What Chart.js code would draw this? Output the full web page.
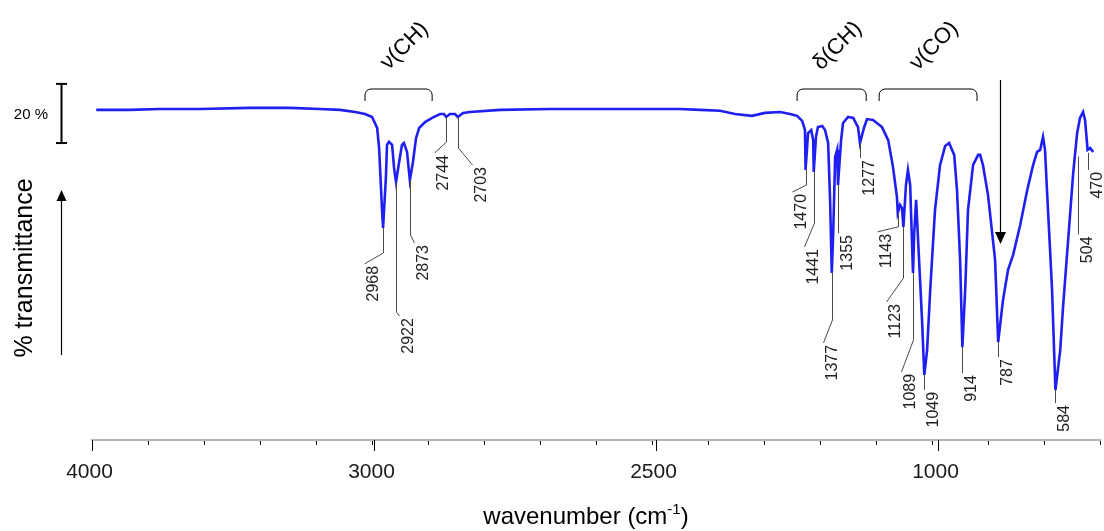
<!DOCTYPE html>
<html>
<head>
<meta charset="utf-8">
<script src="https://cdn.jsdelivr.net/npm/chart.js@4"></script>
<style>
  html, body { margin: 0; padding: 0; background: #fff; }
  #spectrum { display: block; }
</style>
</head>
<body>
<canvas id="spectrum" width="1104" height="531"></canvas>
<script>
// IR spectrum (wavenumber in cm-1, transmittance in %)
const wavenumbers = [
  3985, 3865, 3759, 3617, 3440, 3298, 3192, 3121, 3067, 3032, 3007, 2989, 2982, 2972, 2968, 2958,
  2954, 2947, 2936, 2929, 2922, 2911, 2901, 2894, 2883, 2873, 2862, 2851, 2840, 2819, 2794, 2766,
  2752, 2744, 2731, 2713, 2703, 2684, 2660, 2553, 2376, 2199, 2021, 1915, 1844, 1773, 1720, 1660,
  1614, 1560, 1525, 1500, 1482, 1472, 1470, 1461, 1450, 1443, 1441, 1433, 1426, 1411, 1401, 1390,
  1383, 1377, 1372, 1365, 1358, 1355, 1344, 1337, 1319, 1301, 1284, 1277, 1263, 1252, 1231, 1199,
  1177, 1160, 1146, 1143, 1135, 1128, 1123, 1114, 1107, 1099, 1096, 1089, 1085, 1078, 1071, 1057,
  1049, 1039, 1028, 1011, 993, 975, 961, 943, 933, 922, 914, 904, 894, 876, 858, 851,
  841, 823, 798, 787, 770, 752, 734, 709, 684, 663, 649, 638, 628, 621, 614, 603,
  596, 584, 567, 557, 539, 521, 507, 497, 486, 479, 470, 461, 450
];
const transmittance = [
  95.6, 95.6, 95.9, 95.9, 96.3, 96.3, 95.9, 95.6, 94.9, 94.2, 93.2, 89.5, 82.7, 62.4, 55.7, 72.6,
  83.8, 84.8, 83.8, 76.0, 71.2, 78.0, 83.8, 84.4, 81.4, 71.9, 78.0, 86.1, 89.5, 91.5, 92.9, 94.2,
  94.2, 93.2, 94.2, 94.2, 93.2, 94.6, 94.9, 95.6, 95.9, 95.9, 95.9, 95.9, 95.6, 95.3, 94.2, 93.6,
  94.6, 94.9, 94.2, 93.6, 91.9, 88.8, 75.3, 87.8, 88.8, 85.4, 74.6, 86.5, 89.8, 90.2, 88.8, 84.4,
  65.2, 40.5, 54.0, 79.7, 82.1, 70.2, 85.4, 91.2, 93.2, 92.9, 89.8, 84.4, 89.5, 92.5, 92.2, 89.8,
  85.4, 76.3, 66.2, 60.8, 63.5, 62.4, 56.0, 70.2, 75.3, 70.2, 60.8, 40.5, 53.3, 65.2, 51.6, 24.6,
  6.0, 14.4, 34.7, 61.8, 77.0, 83.4, 84.4, 80.4, 68.5, 44.9, 15.4, 34.7, 61.8, 77.0, 80.4, 80.4,
  77.0, 66.8, 44.9, 17.1, 31.3, 41.5, 46.6, 56.7, 68.5, 77.0, 81.4, 82.1, 86.5, 82.1, 68.5, 48.2,
  34.7, 0.9, 14.4, 29.0, 51.6, 74.3, 87.8, 92.9, 94.9, 92.2, 82.1, 82.7, 81.4
];

// labelled peaks
const peakPositions = [2968, 2922, 2873, 2744, 2703, 1470, 1441, 1377, 1355, 1277, 1143, 1123, 1089, 1049, 914, 787, 584, 504, 470];
const peakLabels = peakPositions.map(String);

// x axis
const tickValues = [4000, 3000, 2000, 1000];
const tickLabels = ["4000", "3000", "2500", "1000"];

// band assignments
const bandStart = [3032, 1500, 1209];
const bandEnd = [2794, 1255, 862];
const bandLabels = ["\u03BD(CH)", "\u03B4(CH)", "\u03BD(CO)"];
const arrowPosition = 780;

// leader line layout for each peak label (pixels): gap, drop, then the kink
const leaderGap  = [0, 0, 0, 0, 0, 0, 0, 0, 0, 0, 0, 0, 0, 0, 0, 0, 0, 28, 3];
const leaderDrop = [25, 130, 55, 25, 31, 15, 51, 47, 48, 15, 14, 51, 67, 15, 26, 15, 13, 78, 17];
const leaderDx   = [-19, 3, 4, -12, 14, -14, -10, -9, 0, 0, -21, -17, -12, 0, 0, 0, 0, 0, 0];
const leaderDy   = [11, 4, 8, 11, 17, 7, 24, 23, 0, 0, 5, 24, 32, 0, 0, 0, 0, 0, 0];

const FONT = '"Liberation Sans", Arial, Helvetica, sans-serif';

function valueAt(w) {
  for (let i = 0; i < wavenumbers.length - 1; i++) {
    const a = wavenumbers[i], b = wavenumbers[i + 1];
    if (w <= a && w >= b) {
      const t = (a - w) / (a - b);
      return transmittance[i] + t * (transmittance[i + 1] - transmittance[i]);
    }
  }
  return transmittance[transmittance.length - 1];
}

function line(ctx, x1, y1, x2, y2) {
  ctx.beginPath();
  ctx.moveTo(x1, y1);
  ctx.lineTo(x2, y2);
  ctx.stroke();
}

const annotations = {
  id: "annotations",
  afterDraw(chart) {
    const ctx = chart.ctx;
    const xs = chart.scales.x;
    const ys = chart.scales.y;
    const bottom = chart.chartArea.bottom;
    ctx.save();

    // longer ticks + labels at the labelled wavenumbers
    ctx.strokeStyle = "#000";
    ctx.fillStyle = "#1a1a1a";
    ctx.lineWidth = 1;
    ctx.font = "21px " + FONT;
    ctx.textAlign = "center";
    ctx.textBaseline = "alphabetic";
    tickValues.forEach((v, i) => {
      const px = Math.round(xs.getPixelForValue(v)) + 0.5;
      line(ctx, px, bottom, px, bottom + 11);
      ctx.fillText(tickLabels[i], px - 3, bottom + 38);
    });

    // peak labels with leader lines
    ctx.font = "16px " + FONT;
    ctx.fillStyle = "#222";
    peakPositions.forEach((w, i) => {
      const px = Math.round(xs.getPixelForValue(w)) + 0.5;
      const py = ys.getPixelForValue(valueAt(w)) + leaderGap[i];
      const by = py + leaderDrop[i];
      const ex = px + leaderDx[i];
      const ey = by + leaderDy[i];
      ctx.strokeStyle = "#4a4a4a";
      ctx.beginPath();
      ctx.moveTo(px, py);
      ctx.lineTo(px, by);
      ctx.lineTo(ex, ey);
      ctx.stroke();
      ctx.save();
      ctx.translate(ex + 1, ey + 2);
      ctx.rotate(-Math.PI / 2);
      ctx.textAlign = "right";
      ctx.textBaseline = "top";
      ctx.fillText(peakLabels[i], 0, 0);
      ctx.restore();
    });

    // band brackets
    const bTop = 89, bFoot = 101, r = 6;
    ctx.strokeStyle = "#000";
    ctx.lineWidth = 1;
    ctx.font = "22px " + FONT;
    ctx.fillStyle = "#000";
    bandLabels.forEach((label, i) => {
      const x1 = xs.getPixelForValue(bandStart[i]);
      const x2 = xs.getPixelForValue(bandEnd[i]);
      ctx.beginPath();
      ctx.moveTo(x1, bFoot);
      ctx.arcTo(x1, bTop, x1 + r, bTop, r);
      ctx.arcTo(x2, bTop, x2, bTop + r, r);
      ctx.lineTo(x2, bFoot);
      ctx.stroke();
      ctx.save();
      ctx.translate((x1 + x2) / 2 + 6, bTop - 43);
      ctx.rotate(-Math.PI / 4);
      ctx.textAlign = "center";
      ctx.textBaseline = "middle";
      ctx.fillText(label, 0, 0);
      ctx.restore();
    });

    // downward arrow
    const ax = Math.round(xs.getPixelForValue(arrowPosition)) + 0.5;
    ctx.lineWidth = 1.2;
    line(ctx, ax, 80, ax, 233);
    ctx.beginPath();
    ctx.moveTo(ax - 5.5, 232);
    ctx.lineTo(ax + 5.5, 232);
    ctx.lineTo(ax, 244);
    ctx.closePath();
    ctx.fill();

    // 20 % scale bar
    const sTop = ys.getPixelForValue(104.4);
    const sBot = ys.getPixelForValue(84.4);
    ctx.lineWidth = 2;
    line(ctx, 61.5, sTop, 61.5, sBot);
    line(ctx, 56, sTop, 67, sTop);
    line(ctx, 56, sBot, 67, sBot);
    ctx.font = "15px " + FONT;
    ctx.textAlign = "right";
    ctx.textBaseline = "middle";
    ctx.fillText("20 %", 48, (sTop + sBot) / 2 + 1);

    // y direction arrow and label
    ctx.lineWidth = 1.2;
    line(ctx, 61.5, 355, 61.5, 200);
    ctx.beginPath();
    ctx.moveTo(56.5, 201);
    ctx.lineTo(66.5, 201);
    ctx.lineTo(61.5, 190);
    ctx.closePath();
    ctx.fill();
    ctx.save();
    ctx.translate(25, 268);
    ctx.rotate(-Math.PI / 2);
    ctx.font = "25px " + FONT;
    ctx.textAlign = "center";
    ctx.textBaseline = "middle";
    ctx.fillText("% transmittance", 0, 0);
    ctx.restore();

    // x axis title with superscript
    const main = "wavenumber (cm";
    const sup = "-1";
    const close = ")";
    ctx.textAlign = "left";
    ctx.textBaseline = "alphabetic";
    ctx.font = "24px " + FONT;
    const w1 = ctx.measureText(main).width;
    const w3 = ctx.measureText(close).width;
    ctx.font = "15px " + FONT;
    const w2 = ctx.measureText(sup).width;
    let tx = 586 - (w1 + w2 + w3) / 2;
    const base = 524;
    ctx.font = "24px " + FONT;
    ctx.fillText(main, tx, base);
    tx += w1;
    ctx.font = "15px " + FONT;
    ctx.fillText(sup, tx, base - 10);
    tx += w2;
    ctx.font = "24px " + FONT;
    ctx.fillText(close, tx, base);

    ctx.restore();
  }
};

new Chart(document.getElementById("spectrum"), {
  type: "line",
  data: {
    datasets: [
      {
        data: wavenumbers.map((w, i) => ({ x: w, y: transmittance[i] })),
        borderColor: "#1f1ff2",
        borderWidth: 2.6,
        pointRadius: 0,
        tension: 0,
        fill: false,
      },
    ],
  },
  options: {
    responsive: false,
    animation: false,
    devicePixelRatio: 1,
    layout: { padding: { left: 92, right: 4, top: 20, bottom: 0 } },
    plugins: {
      legend: { display: false },
      tooltip: { enabled: false },
    },
    scales: {
      x: {
        type: "linear",
        reverse: true,
        min: 426,
        max: 4000,
        afterFit: (scale) => {
          scale.height = 91;
          scale.paddingLeft = 0;
          scale.paddingRight = 0;
        },
        border: { display: true, color: "#b4b4b4", width: 2 },
        grid: {
          display: true,
          drawOnChartArea: false,
          drawTicks: true,
          tickLength: 5,
          color: "#000",
          tickColor: "#000",
        },
        ticks: {
          display: false,
          stepSize: 200,
          includeBounds: false,
          autoSkip: false,
        },
      },
      y: { display: false, min: -16, max: 126 },
    },
  },
  plugins: [annotations],
});
</script>
</body>
</html>
